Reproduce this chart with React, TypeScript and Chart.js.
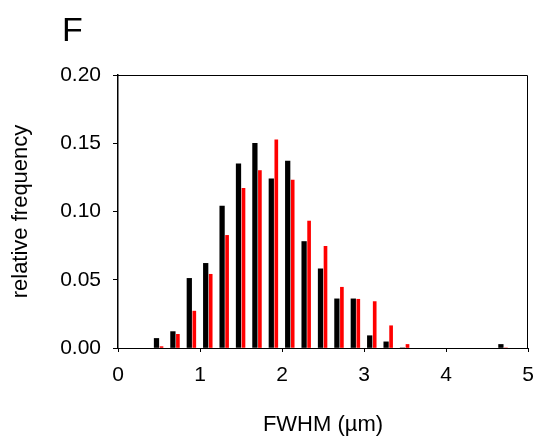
import React, { useEffect, useRef } from "react";
import { Chart, registerables } from "chart.js";

Chart.register(...registerables);

// Histogram bin centres (µm)
const binCenters = [0.5, 0.7, 0.9, 1.1, 1.3, 1.5, 1.7, 1.9, 2.1, 2.3, 2.5, 2.7, 2.9, 3.1, 3.3, 3.5, 4.7];
// Black series relative frequency
const blackValues = [0.007, 0.012, 0.051, 0.062, 0.104, 0.135, 0.15, 0.124, 0.137, 0.078, 0.058, 0.036, 0.036, 0.009, 0.0045, 0, 0.0026];
// Red series relative frequency
const redValues = [0.001, 0.01, 0.027, 0.054, 0.0825, 0.117, 0.13, 0.1525, 0.123, 0.093, 0.0745, 0.0445, 0.0357, 0.034, 0.0163, 0.0026, 0];

const xMin = 0;
const xMax = 5;
const xStep = 1;
const yMin = 0;
const yMax = 0.2;
const yStep = 0.05;

const panelLabel = "F";
const xTitle = "FWHM (µm)";
const yTitle = "relative frequency";

const FONT = '"Liberation Sans", Arial, sans-serif';

const framePlugin = {
  id: "frameAndLabel",
  afterDraw(chart: any) {
    const { ctx, chartArea: a } = chart;
    ctx.save();
    ctx.strokeStyle = "#000";
    ctx.lineWidth = 1;
    ctx.beginPath();
    ctx.moveTo(a.left, Math.round(a.top) + 0.5);
    ctx.lineTo(Math.round(a.right) - 0.5, Math.round(a.top) + 0.5);
    ctx.lineTo(Math.round(a.right) - 0.5, a.bottom);
    ctx.stroke();
    ctx.fillStyle = "#000";
    ctx.font = `34px ${FONT}`;
    ctx.textAlign = "left";
    ctx.textBaseline = "alphabetic";
    ctx.fillText(panelLabel, 62, 41);
    ctx.restore();
  },
};

export default function App() {
  const canvasRef = useRef<HTMLCanvasElement | null>(null);

  useEffect(() => {
    if (!canvasRef.current) return;
    const chart = new Chart(canvasRef.current, {
      type: "bar",
      data: {
        datasets: [
          {
            label: "black",
            data: binCenters.map((x, i) => ({ x, y: blackValues[i] })),
            backgroundColor: "#000000",
            borderWidth: 0,
            barThickness: 5,
            maxBarThickness: 4.6,
          },
          {
            label: "red",
            data: binCenters.map((x, i) => ({ x, y: redValues[i] })),
            backgroundColor: "#ff0000",
            borderWidth: 0,
            barThickness: 5,
            maxBarThickness: 3,
          },
        ],
      },
      options: {
        animation: false,
        responsive: false,
        devicePixelRatio: 1,
        layout: { padding: { top: 75, right: 8, bottom: 0, left: 0 } },
        plugins: {
          legend: { display: false },
          tooltip: { enabled: false },
        },
        scales: {
          x: {
            type: "linear",
            min: xMin,
            max: xMax,
            offset: false,
            grid: {
              offset: false,
              display: true,
              drawOnChartArea: false,
              drawTicks: true,
              tickLength: 4,
              color: "#000",
            },
            border: { display: true, color: "#000", width: 1 },
            ticks: {
              stepSize: xStep,
              padding: 11,
              color: "#000",
              font: { family: FONT, size: 21 },
              maxRotation: 0,
              callback: (v: any) => String(v),
            },
            title: {
              display: true,
              text: xTitle,
              color: "#000",
              font: { family: FONT, size: 22 },
              padding: { top: 0, bottom: 2 },
            },
            afterFit: (s: any) => {
              s.height = 92;
              s.paddingLeft = 0;
              s.paddingRight = 0;
            },
          },
          y: {
            type: "linear",
            min: yMin,
            max: yMax,
            grid: {
              display: true,
              drawOnChartArea: false,
              drawTicks: true,
              tickLength: 5,
              color: "#000",
            },
            border: { display: true, color: "#000", width: 1.5 },
            ticks: {
              stepSize: yStep,
              padding: 12,
              color: "#000",
              font: { family: FONT, size: 21 },
              callback: (v: any) => Number(v).toFixed(2),
            },
            title: {
              display: true,
              text: yTitle,
              color: "#000",
              font: { family: FONT, size: 22 },
              padding: { top: 8, bottom: 0 },
            },
            afterFit: (s: any) => {
              s.width = 118;
              s.paddingTop = 0;
              s.paddingBottom = 0;
            },
          },
        },
      },
      plugins: [framePlugin],
    } as any);
    return () => chart.destroy();
  }, []);

  return (
    <div style={{ position: "absolute", left: 0, top: 0, width: 536, height: 440, background: "#fff" }}>
      <canvas ref={canvasRef} width={536} height={440} style={{ display: "block" }} />
    </div>
  );
}
